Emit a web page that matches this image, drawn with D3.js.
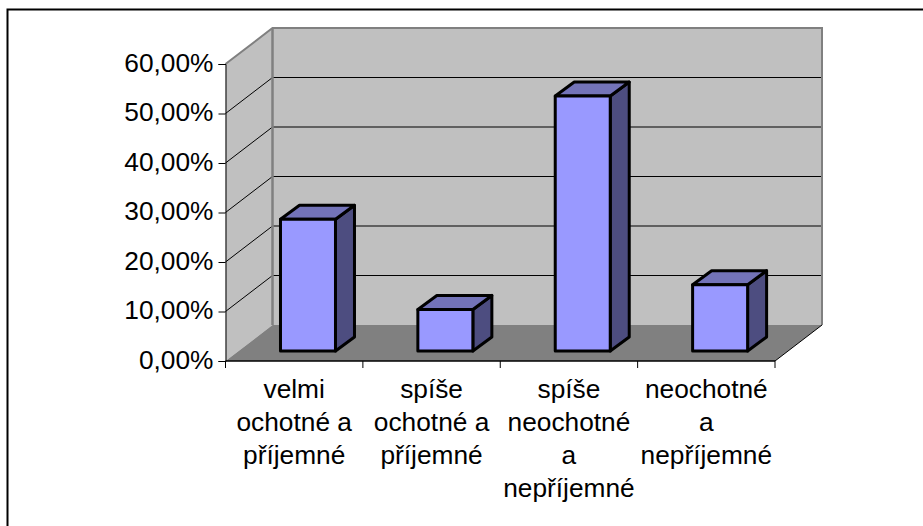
<!DOCTYPE html>
<html><head><meta charset="utf-8">
<script src="https://cdn.jsdelivr.net/npm/d3@7"></script>
<style>html,body{margin:0;padding:0;background:#fff}svg{display:block}text{font-family:"Liberation Sans",Arial,sans-serif;fill:#000}</style>
</head><body><svg id="c" width="923" height="526"></svg>
<script>
const categories = [
  ["velmi","ochotné a","příjemné"],
  ["spíše","ochotné a","příjemné"],
  ["spíše","neochotné","a","nepříjemné"],
  ["neochotné","a","nepříjemné"]
];
const values = [26.6, 8.4, 51.5, 13.4];
const tickValues = [0,10,20,30,40,50,60];
const tickLabels = ["0,00%","10,00%","20,00%","30,00%","40,00%","50,00%","60,00%"];

const svg = d3.select("#c");
const x0 = 225.5, x1 = 775, yB = 361, yT = 64;
const wallDx = 47, wallDy = -36, barDx = 19, barDy = -14;
const barLift = 10, barShift = 13.8, barW = 55;
const x = d3.scaleBand().domain(d3.range(categories.length)).range([x0,x1]);
const y = d3.scaleLinear().domain([0,60]).range([yB,yT]);
const poly = pts => pts.map(p=>p.join(",")).join(" ");

svg.append("path").attr("d","M7.5,526V9.5H923").attr("fill","none").attr("stroke","#000").attr("stroke-width",2);

// walls
svg.append("polygon").attr("points",poly([[x0,yT],[x0+wallDx,yT+wallDy],[x0+wallDx,yB+wallDy],[x0,yB]])).attr("fill","#c0c0c0");
svg.append("polygon").attr("points",poly([[x0+wallDx,yT+wallDy],[x1+wallDx,yT+wallDy],[x1+wallDx,yB+wallDy],[x0+wallDx,yB+wallDy]])).attr("fill","#c0c0c0");
svg.append("polygon").attr("points",poly([[x0,yB],[x1,yB],[x1+wallDx,yB+wallDy],[x0+wallDx,yB+wallDy]])).attr("fill","#808080");

// gridlines
tickValues.slice(1,-1).forEach(t=>{
  svg.append("path").attr("d",`M${x0},${y(t)}L${x0+wallDx},${y(t)+wallDy}L${x1+wallDx},${y(t)+wallDy}`)
    .attr("fill","none").attr("stroke","#000").attr("stroke-width",1);
});
// wall borders
svg.append("path").attr("d",`M${x0},${yT}L${x0+wallDx},${yT+wallDy}L${x1+wallDx},${yT+wallDy}L${x1+wallDx},${yB+wallDy}`)
  .attr("fill","none").attr("stroke","#808080").attr("stroke-width",2);
svg.append("path").attr("d",`M${x0+wallDx},${yT+wallDy}V${yB+wallDy}`).attr("fill","none").attr("stroke","#808080").attr("stroke-width",2.5);
svg.append("path").attr("d",`M${x1},${yB}L${x1+wallDx},${yB+wallDy}`).attr("fill","none").attr("stroke","#000").attr("stroke-width",1);

// axes
const yAxis = d3.axisLeft(y).tickValues(tickValues).tickSize(7).tickPadding(5).tickFormat((d,i)=>tickLabels[i]);
const gy = svg.append("g").attr("transform",`translate(${x0},0)`).call(yAxis);
gy.selectAll("text").attr("font-size",26.3).attr("y",-1).style("font-family",'"Liberation Sans",Arial,sans-serif');
const bandEdges = d3.range(categories.length+1).map(i=>x0+i*x.step());
const gx = svg.append("g");
gx.append("path").attr("d",`M${x0},${yB}H${x1}`).attr("stroke","#000").attr("stroke-width",1.5);
gx.selectAll("line").data(bandEdges).join("line").attr("x1",d=>d).attr("x2",d=>d).attr("y1",yB).attr("y2",yB+7).attr("stroke","#000");
gy.selectAll("path.domain,line").attr("stroke","#000");

// bars
const g = svg.append("g").selectAll("g").data(values).join("g");
g.each(function(v,i){
  const s = d3.select(this);
  const l = x(i)+x.bandwidth()/2+barShift-barW/2, r = l+barW;
  const b = yB-barLift, t = b-(yB-y(v));
  const common = {stroke:"#000","stroke-width":3,"stroke-linejoin":"round"};
  const add = (pts,fill)=>{const p=s.append("polygon").attr("points",poly(pts)).attr("fill",fill);for(const k in common)p.attr(k,common[k]);};
  add([[r,t],[r+barDx,t+barDy],[r+barDx,b+barDy],[r,b]],"#4d4d80");
  add([[l,t],[l+barDx,t+barDy],[r+barDx,t+barDy],[r,t]],"#7373b8");
  add([[l,t],[r,t],[r,b],[l,b]],"#9999ff");
});

// category labels
const lab = svg.append("g").selectAll("text").data(categories).join("text")
  .attr("font-size",26.3).attr("text-anchor","middle");
lab.each(function(lines,i){
  d3.select(this).selectAll("tspan").data(lines).join("tspan")
    .attr("x",x(i)+x.bandwidth()/2).attr("y",(d,j)=>397.5+j*33.3).text(d=>d);
});
</script></body></html>
